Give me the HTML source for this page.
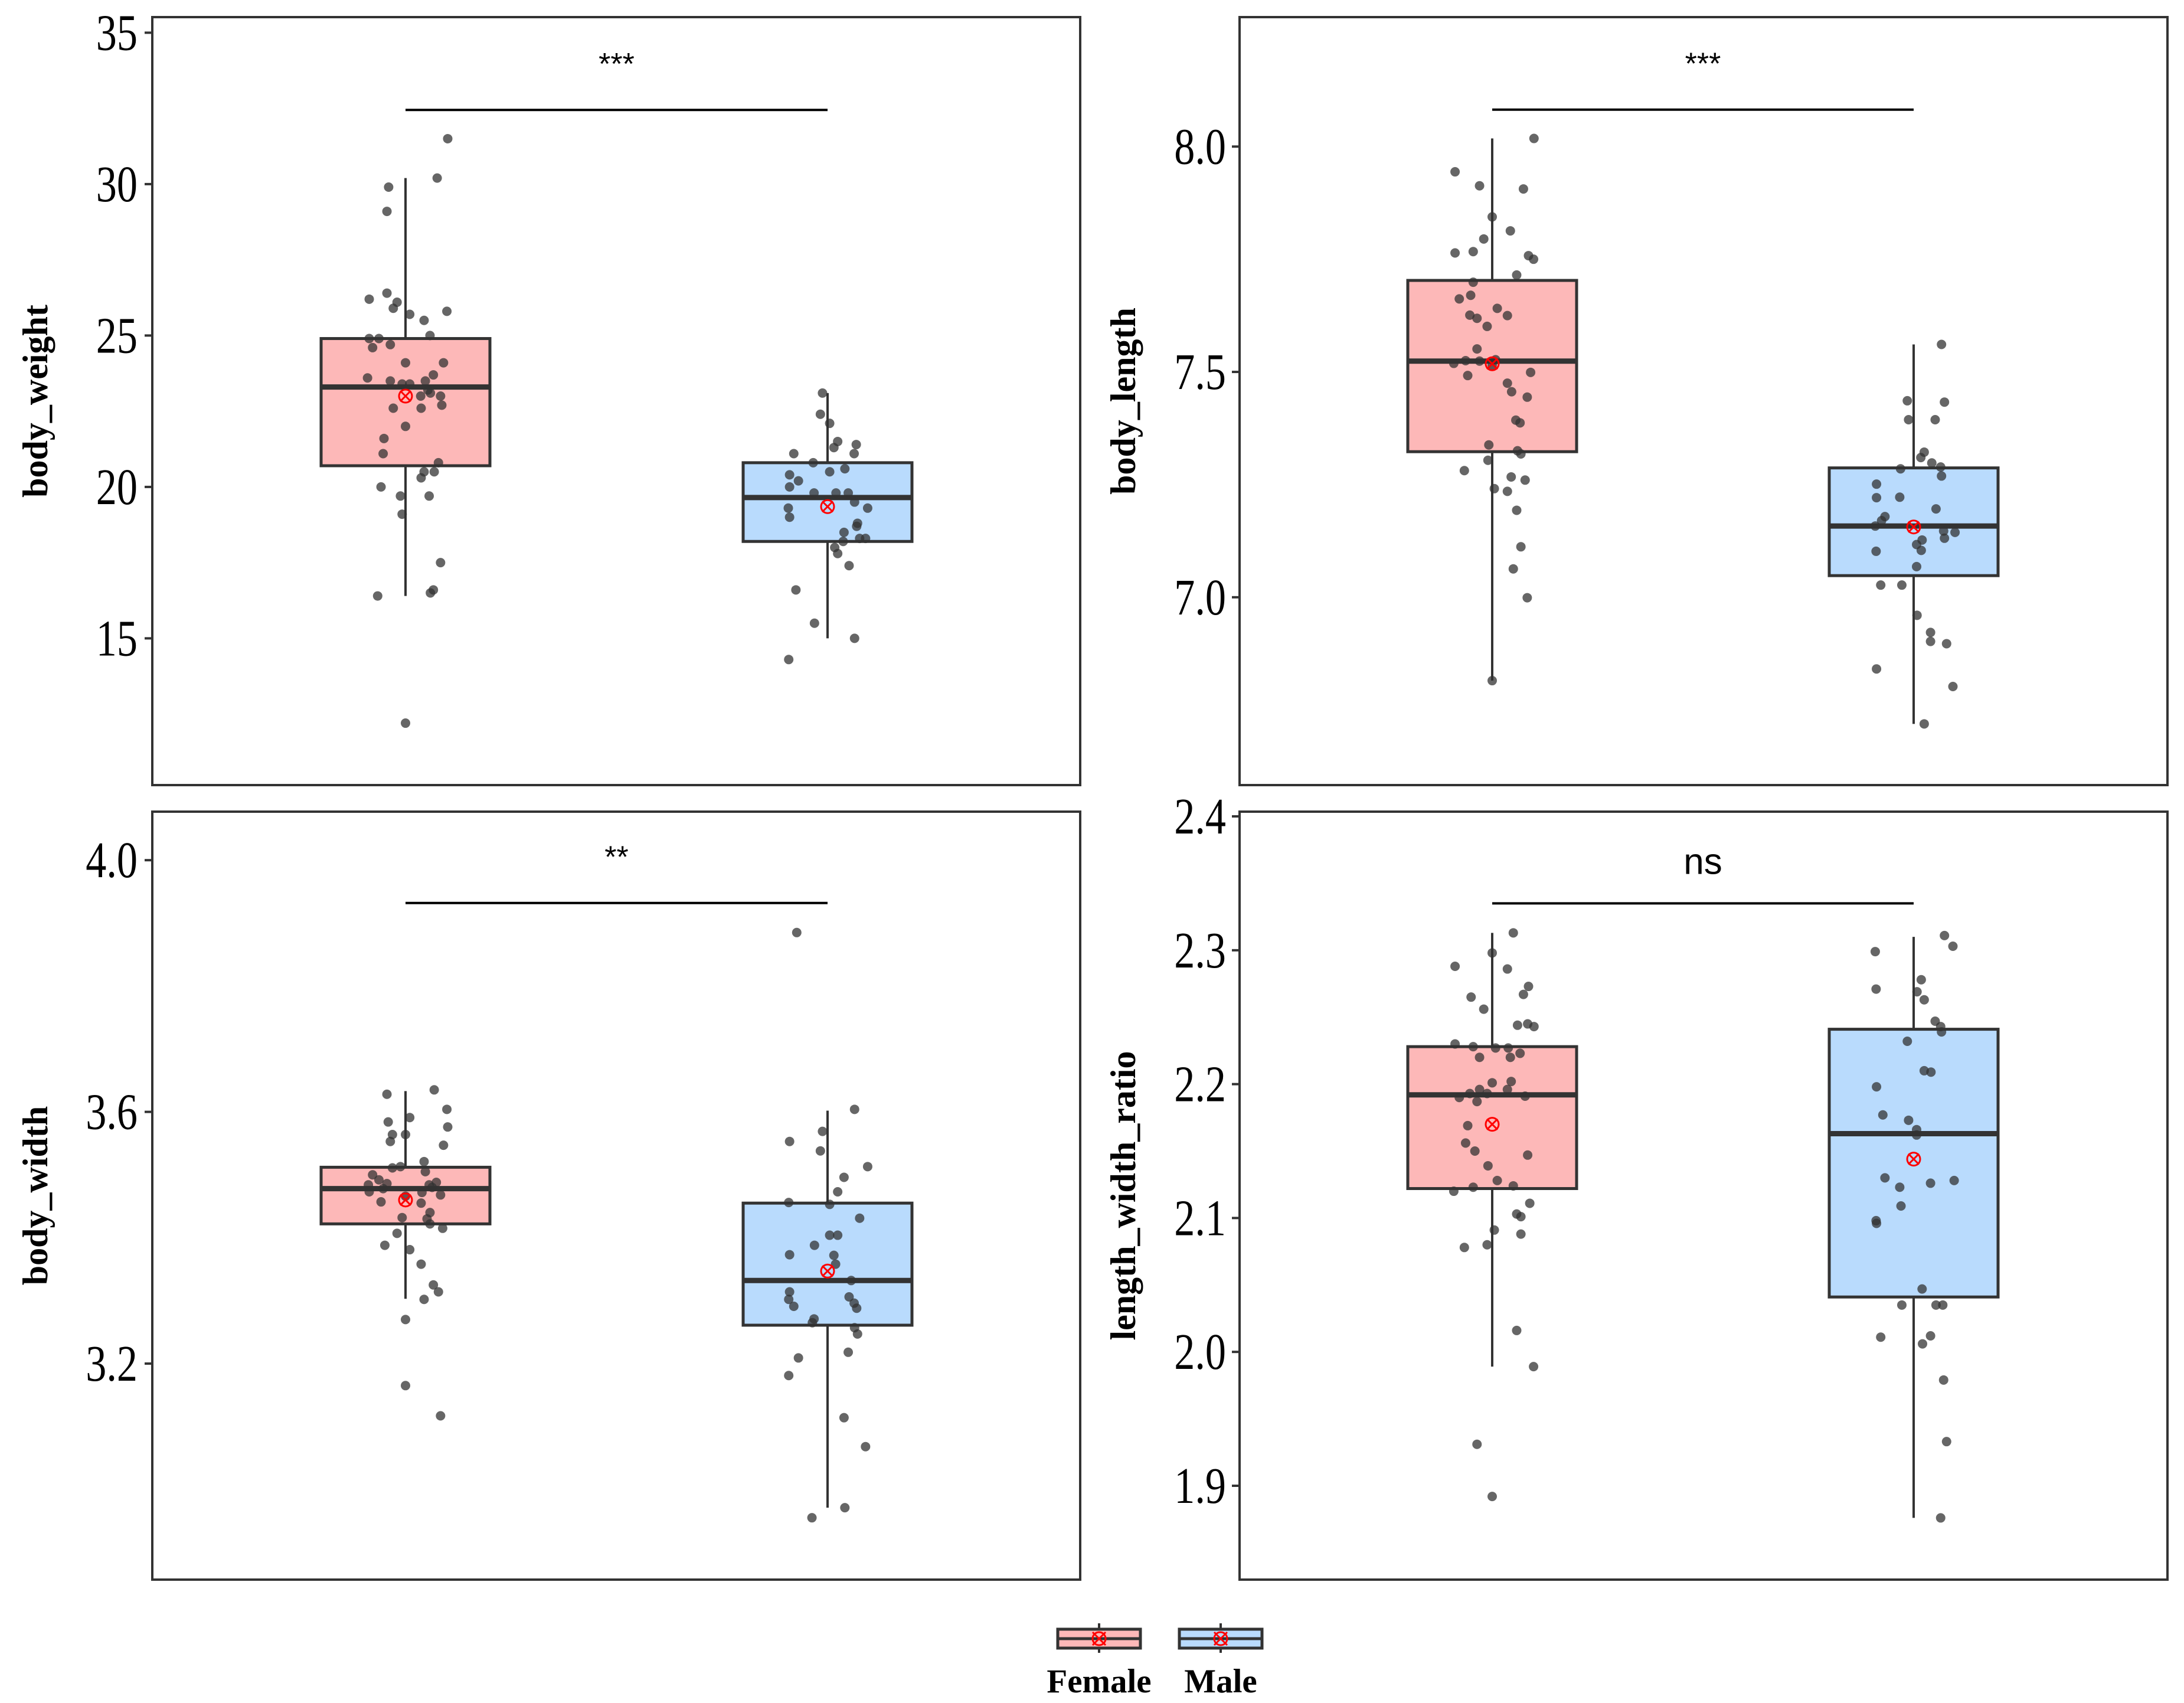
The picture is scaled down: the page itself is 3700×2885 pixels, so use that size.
<!DOCTYPE html>
<html><head><meta charset="utf-8"><style>
html,body{margin:0;padding:0;background:#fff;width:3700px;height:2885px;overflow:hidden}
svg{display:block}
</style></head><body>
<svg id="chart" width="3700" height="2885" viewBox="0 0 3700 2885" xmlns="http://www.w3.org/2000/svg"></svg>
<script>
// ---- data ----
const groups = ["Female","Male"];
const panelTitles = ["body_weight","body_length","body_width","length_width_ratio"];
const sigLabels = ["***","***","**","ns"];
const sigY = [32.45, 8.082, 3.932, 2.335];
const ticks1 = [15,20,25,30,35];
const ticks2 = [7.0,7.5,8.0];
const ticks3 = [3.2,3.6,4.0];
const ticks4 = [1.9,2.0,2.1,2.2,2.3,2.4];
const tickLabels1 = ["15","20","25","30","35"];
const tickLabels2 = ["7.0","7.5","8.0"];
const tickLabels3 = ["3.2","3.6","4.0"];
const tickLabels4 = ["1.9","2.0","2.1","2.2","2.3","2.4"];
// box stats: [lowerWhisker, q1, median, q3, upperWhisker, mean]
const stats1F = [16.4,20.7,23.3,24.9,30.2,23.0];
const stats1M = [15.0,18.2,19.65,20.8,23.1,19.35];
const stats2F = [6.815,7.323,7.524,7.703,8.018,7.518];
const stats2M = [6.719,7.048,7.158,7.287,7.561,7.156];
const stats3F = [3.303,3.422,3.478,3.512,3.633,3.460];
const stats3M = [2.971,3.261,3.332,3.455,3.602,3.347];
const stats4F = [1.989,2.122,2.192,2.228,2.313,2.170];
const stats4M = [1.876,2.041,2.163,2.241,2.310,2.144];
// points
const pts1F = [31.5,30.2,29.9,29.1,26.4,26.2,26.1,25.9,25.8,25.7,25.5,24.9,24.9,25.0,24.7,24.6,24.1,24.1,23.6,23.5,23.7,23.5,23.4,23.4,23.2,23.1,23.0,23.0,22.6,22.6,22.7,22.0,21.6,21.1,20.8,20.5,20.5,20.3,20.0,19.7,19.7,19.1,17.5,16.4,16.5,16.6,12.2];
const jit1F = [10,7.5,-4,-4.4,-4.4,-8.6,-2,-2.9,9.8,1,4.4,-8.6,-6.3,5.8,-3.6,-7.8,0,9,-9,-3.6,6.6,4.7,-0.8,1,5.3,5.9,8.3,3.6,-2.9,3.7,8.6,0,-5.1,-5.3,7.8,4.4,6.8,3.7,-5.8,-1.2,5.6,-0.8,8.3,-6.6,5.9,6.6,0];
const pts1M = [23.1,22.4,22.1,21.5,21.4,21.3,21.1,21.1,20.8,20.6,20.5,20.4,20.2,20.0,19.8,19.8,19.8,19.5,19.3,19.3,19.0,18.8,18.7,18.5,18.3,18.2,18.3,18.0,17.8,17.4,16.6,15.5,15.0,14.3];
const jit1M = [-1.2,-1.7,0.5,2.4,6.8,1.5,-8,6.3,-3.4,4.1,0.5,-9,-6.9,-9,-3.2,2,4.9,6.4,-9.3,9.5,-9,7.1,6.9,3.9,7.6,3.7,9,1.7,2.4,5.1,-7.5,-3.1,6.4,-9.2];
const pts2F = [8.018,7.944,7.913,7.906,7.844,7.813,7.795,7.764,7.767,7.758,7.750,7.715,7.699,7.670,7.662,7.641,7.626,7.619,7.625,7.601,7.551,7.519,7.525,7.524,7.527,7.515,7.499,7.492,7.475,7.456,7.444,7.393,7.387,7.338,7.325,7.318,7.304,7.281,7.267,7.260,7.241,7.235,7.193,7.112,7.063,6.999,6.815];
const jit2F = [9.9,-8.8,-3,7.4,0,4.3,-2,-8.8,-4.5,8.6,9.8,5.8,-4.5,-5.1,-7.8,1.2,-5.3,-3.6,3.6,-1.2,-3.6,-9.1,-6.3,-3,0.8,0,9.1,-5.8,3.6,4.6,8.3,5.6,6.6,-0.8,6,6.8,-1,-6.6,4.5,7.8,0.5,3.6,5.8,6.8,5,8.3,0];
const pts2M = [7.561,7.436,7.433,7.394,7.394,7.322,7.310,7.298,7.285,7.289,7.269,7.251,7.221,7.222,7.196,7.179,7.170,7.158,7.147,7.144,7.131,7.127,7.117,7.104,7.102,7.068,7.027,7.027,6.960,6.922,6.902,6.897,6.841,6.802,6.719];
const jit2M = [6.6,-1.5,7.3,-1.2,5.1,2.5,1.7,4.3,-3.1,6.4,6.6,-8.8,-8.8,-3.3,5.3,-6.8,-7.6,-9.1,7.1,9.8,7.3,2,0.7,1.8,-8.9,0.7,-7.8,-2.8,0.8,4,4,7.8,-8.8,9.3,2.5];
const pts3F = [3.635,3.628,3.604,3.591,3.584,3.576,3.564,3.564,3.553,3.547,3.521,3.513,3.511,3.505,3.500,3.492,3.486,3.488,3.484,3.484,3.478,3.473,3.472,3.480,3.468,3.466,3.457,3.455,3.440,3.432,3.430,3.422,3.415,3.407,3.388,3.381,3.358,3.325,3.314,3.302,3.270,3.165,3.117];
const jit3F = [6.8,-4.4,9.8,1,-4.1,10,-3.1,0,-3.6,9,4.4,-1.2,-3.1,4.7,-7.8,-6.3,-4.4,7.3,-8.8,5.6,-5.3,-8.6,3.9,6.3,8.3,0,-5.8,3.7,5.8,-0.8,5.1,5.8,8.8,-2,-4.9,1,3.7,6.6,7.8,4.4,0,0,8.3];
const pts3M = [3.885,3.604,3.569,3.553,3.538,3.513,3.496,3.473,3.456,3.453,3.431,3.404,3.404,3.388,3.373,3.372,3.358,3.332,3.314,3.306,3.302,3.296,3.291,3.288,3.271,3.265,3.257,3.247,3.218,3.209,3.181,3.114,3.068,2.971,2.955];
const jit3M = [-7.3,6.4,-1.2,-9,-1.7,9.5,3.9,2.4,-9.2,0.5,7.6,0.5,2.4,-3.1,-9,1.5,1.9,5.6,-9,5.1,-9.2,6.3,-8,6.9,-3.2,-3.6,6.4,7.1,4.9,-6.9,-9.2,3.9,9,4.1,-3.7];
const pts4F = [2.313,2.298,2.288,2.286,2.273,2.267,2.265,2.256,2.245,2.244,2.243,2.230,2.228,2.227,2.227,2.223,2.220,2.220,2.201,2.202,2.196,2.196,2.193,2.193,2.190,2.191,2.187,2.169,2.156,2.150,2.147,2.139,2.128,2.124,2.123,2.120,2.111,2.103,2.101,2.091,2.088,2.080,2.078,2.016,1.989,1.931,1.892];
const jit4F = [5,0,-8.8,3.6,8.6,7.4,-5,-2,8.4,6,9.9,-8.8,-4.5,0.8,3.8,6.6,-3,4.3,0,4.5,-3,3.6,-5.3,-1.2,-7.8,7.8,-3.6,-5.8,-6.3,-4.1,8.4,-1,1.2,5,-4.5,-9.1,8.9,5.8,6.8,0.5,6.8,-1.2,-6.6,5.8,9.8,-3.6,0];
const pts4M = [2.311,2.303,2.299,2.278,2.271,2.269,2.263,2.247,2.243,2.239,2.232,2.210,2.209,2.198,2.177,2.173,2.166,2.162,2.130,2.128,2.126,2.123,2.109,2.098,2.096,2.047,2.035,2.035,2.035,2.011,2.012,2.006,1.979,1.933,1.876];
const jit4M = [7.3,9.3,-9.1,1.8,-8.9,0.8,2.5,5.1,6.4,6.6,-1.5,2.5,4.1,-8.8,-7.3,-1.2,0.7,0.7,-6.8,9.6,4,-3.3,-3,-8.9,-8.8,2,-2.8,5.3,6.9,-7.8,4,2.1,7.1,7.8,6.4];

// ---- layout ----
const NS="http://www.w3.org/2000/svg";
const svg=document.getElementById('chart');
function mk(tag,attrs,parent){const e=document.createElementNS(NS,tag);for(const k in attrs)e.setAttribute(k,attrs[k]);(parent||svg).appendChild(e);return e;}
const fills=["#fdb8b8","#b9dbfd"];
const panels=[
 {x0:258,x1:1830,y0:29,y1:1330,vA:35,pA:55.4,vB:15,pB:1081.4,ticks:ticks1,labels:tickLabels1,stats:[stats1F,stats1M],pts:[pts1F,pts1M],jit:[jit1F,jit1M],cx:[687,1402],titleX:60,labR:233},
 {x0:2100,x1:3672,y0:29,y1:1330,vA:8,pA:248.3,vB:7,pB:1011.8,ticks:ticks2,labels:tickLabels2,stats:[stats2F,stats2M],pts:[pts2F,pts2M],jit:[jit2F,jit2M],cx:[2528,3242],titleX:1903,labR:2077},
 {x0:258,x1:1830,y0:1375,y1:2676,vA:4,pA:1457.2,vB:3.2,pB:2310,ticks:ticks3,labels:tickLabels3,stats:[stats3F,stats3M],pts:[pts3F,pts3M],jit:[jit3F,jit3M],cx:[687,1402],titleX:60,labR:233},
 {x0:2100,x1:3672,y0:1375,y1:2676,vA:2.4,pA:1383,vB:1.9,pB:2517,ticks:ticks4,labels:tickLabels4,stats:[stats4F,stats4M],pts:[pts4F,pts4M],jit:[jit4F,jit4M],cx:[2528,3242],titleX:1903,labR:2077}
];
const spacing=715, halfBox=143;
panels.forEach((p,pi)=>{
  const g=mk('g',{});
  
  
  const y=v=>p.pA+(v-p.vA)*(p.pB-p.pA)/(p.vB-p.vA);
  const xj=(c,j)=>c+j/100*spacing;
  p.ticks.forEach((t,i)=>{
    const ln=mk('line',{x1:p.x0-13,x2:p.x0,y1:y(t),y2:y(t),stroke:'#333','stroke-width':4},g);
    
    
    const tx=mk('text',{x:0,y:0,'text-anchor':'end','font-family':'Liberation Serif, serif','font-size':78,fill:'#000',transform:`translate(${p.labR} ${y(t)+29}) scale(0.9 1.12)`},g);
    tx.textContent=p.labels[i];
    
    
  });
  const yc=(p.y0+p.y1)/2;
  const tt=mk('text',{x:p.titleX+20,y:yc,'text-anchor':'middle','font-family':'Liberation Serif, serif','font-weight':'bold','font-size':60,transform:`rotate(-90 ${p.titleX+20} ${yc})`},g);
  tt.textContent=panelTitles[pi];
  
  
  p.stats.forEach((s,gi)=>{
    const c=p.cx[gi];
    const bg=mk('g',{},g);
    
    
    mk('line',{x1:c,x2:c,y1:y(s[0]),y2:y(s[1]),stroke:'#333','stroke-width':4},bg);
    mk('line',{x1:c,x2:c,y1:y(s[3]),y2:y(s[4]),stroke:'#333','stroke-width':4},bg);
    mk('rect',{x:c-halfBox,y:y(s[3]),width:2*halfBox,height:y(s[1])-y(s[3]),fill:fills[gi],stroke:'#333','stroke-width':5},bg);
    mk('line',{x1:c-halfBox,x2:c+halfBox,y1:y(s[2]),y2:y(s[2]),stroke:'#333','stroke-width':9},bg);
  });
  p.pts.forEach((arr,gi)=>{
    arr.forEach((v,i)=>{
      const d=mk('circle',{cx:xj(p.cx[gi],p.jit[gi][i]),cy:y(v),r:8,fill:'#333','fill-opacity':0.75},g);
      
      
    });
  });
  p.stats.forEach((s,gi)=>{
    const c=p.cx[gi],m=y(s[5]);
    const mg=mk('g',{stroke:'#ff0000','stroke-width':3,fill:'none'},g);
    
    
    mk('circle',{cx:c,cy:m,r:11},mg);
    mk('line',{x1:c-9,y1:m-9,x2:c+9,y2:m+9},mg);
    mk('line',{x1:c-9,y1:m+9,x2:c+9,y2:m-9},mg);
  });
  const sy=y(sigY[pi]);
  const sb=mk('line',{x1:p.cx[0],x2:p.cx[1],y1:sy,y2:sy,stroke:'#000','stroke-width':4},g);
  
  
  const isNs=sigLabels[pi]==='ns';
  const st=mk('text',{x:(p.cx[0]+p.cx[1])/2,y:isNs?sy-50:sy-60,'text-anchor':'middle','font-family':'Liberation Sans, sans-serif','font-size':isNs?62:52,fill:'#000'},g);
  st.textContent=sigLabels[pi];
  
  
  const bd=mk('rect',{x:p.x0,y:p.y0,width:p.x1-p.x0,height:p.y1-p.y0,fill:'none',stroke:'#333','stroke-width':4},g);
  
  
});
const legendX=[1862,2068];
groups.forEach((gname,gi)=>{
  const c=legendX[gi];
  const lg=mk('g',{});
  
  
  mk('line',{x1:c,x2:c,y1:2750,y2:2800,stroke:'#333','stroke-width':4},lg);
  mk('rect',{x:c-70,y:2760,width:140,height:32,fill:fills[gi],stroke:'#333','stroke-width':5},lg);
  mk('line',{x1:c-70,x2:c+70,y1:2776,y2:2776,stroke:'#333','stroke-width':5},lg);
  const mg=mk('g',{stroke:'#ff0000','stroke-width':3,fill:'none'},lg);
  mk('circle',{cx:c,cy:2776,r:11},mg);
  mk('line',{x1:c-11,y1:2765,x2:c+11,y2:2787},mg);
  mk('line',{x1:c-11,y1:2787,x2:c+11,y2:2765},mg);
  const t=mk('text',{x:c,y:2867,'text-anchor':'middle','font-family':'Liberation Serif, serif','font-weight':'bold','font-size':57},lg);
  t.textContent=gname;
});
</script>
</body></html>
